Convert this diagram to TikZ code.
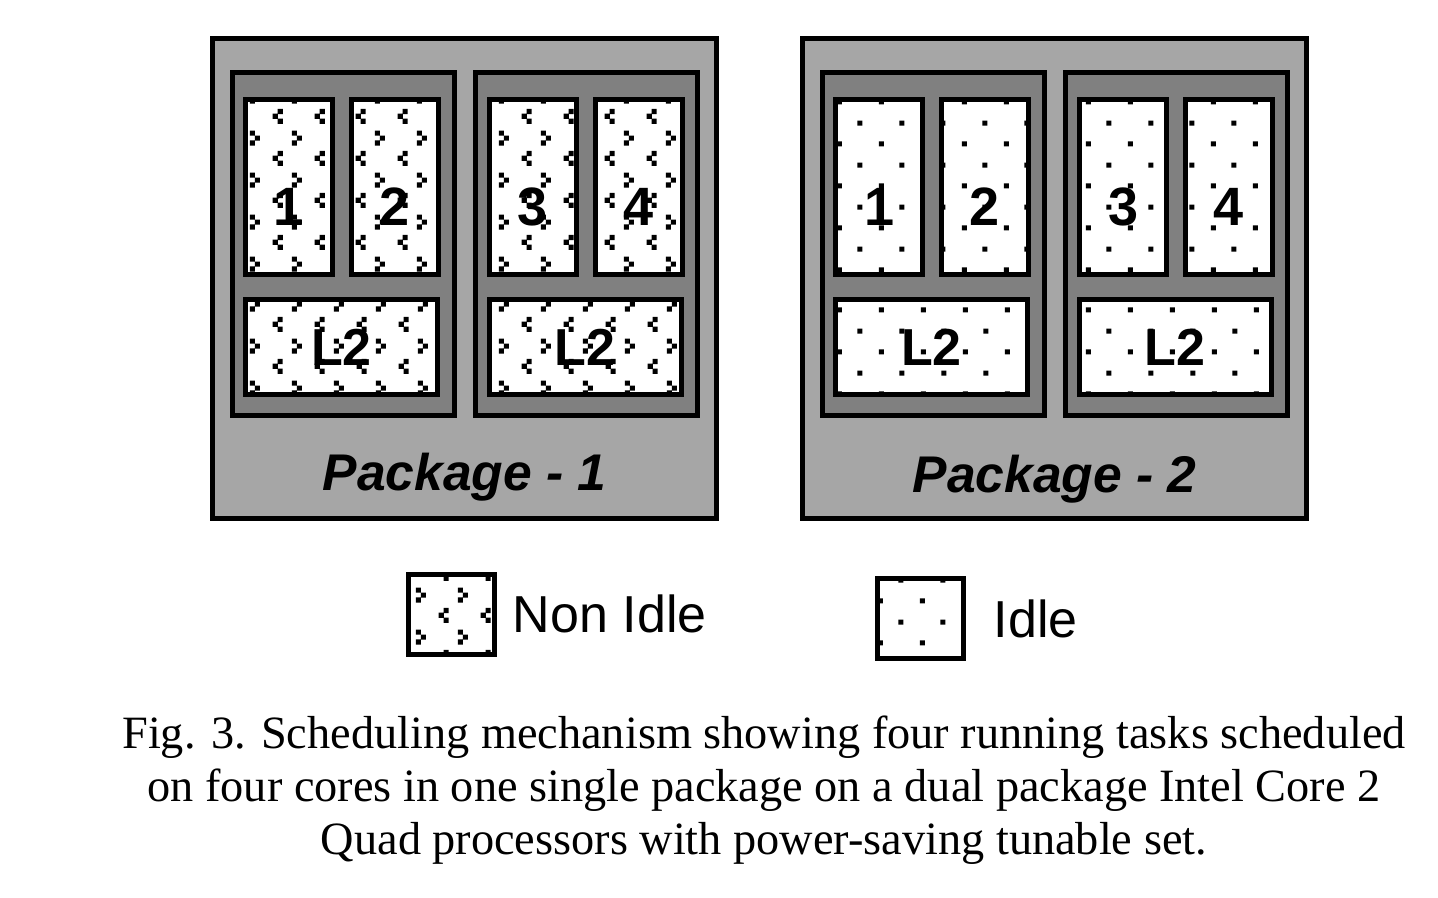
\documentclass[tikz,border=0pt]{standalone}
\usepackage{fontspec}
\setmainfont{Liberation Serif}
\setsansfont{Liberation Sans}
\usetikzlibrary{patterns,positioning}
\definecolor{pkggray}{RGB}{166,166,166}
\definecolor{diegray}{RGB}{128,128,128}
% chevron pattern for busy cores
\pgfdeclarepatternformonly{nonidle}{\pgfpointorigin}{\pgfpoint{20.75pt}{20.75pt}}{\pgfpoint{20.75pt}{20.75pt}}{%
  \pgfpathrectangle{\pgfpoint{0.4pt}{2.2pt}}{\pgfpoint{2.6pt}{2.6pt}}%
  \pgfpathrectangle{\pgfpoint{2.9pt}{4.7pt}}{\pgfpoint{2.6pt}{2.6pt}}%
  \pgfpathrectangle{\pgfpoint{0.4pt}{7.2pt}}{\pgfpoint{2.6pt}{2.6pt}}%
  \pgfpathrectangle{\pgfpoint{14.4pt}{13.2pt}}{\pgfpoint{2.6pt}{2.6pt}}%
  \pgfpathrectangle{\pgfpoint{11.9pt}{15.7pt}}{\pgfpoint{2.6pt}{2.6pt}}%
  \pgfpathrectangle{\pgfpoint{14.4pt}{18.1pt}}{\pgfpoint{2.6pt}{2.6pt}}%
  \pgfusepath{fill}}
% dot pattern for idle cores
\pgfdeclarepatternformonly{idle}{\pgfpointorigin}{\pgfpoint{20.75pt}{20.75pt}}{\pgfpoint{20.75pt}{20.75pt}}{%
  \pgfpathrectangle{\pgfpoint{13.8pt}{12.3pt}}{\pgfpoint{2.5pt}{2.5pt}}%
  \pgfpathrectangle{\pgfpoint{3.5pt}{1.8pt}}{\pgfpoint{2.5pt}{2.5pt}}%
  \pgfusepath{fill}}

\begin{document}
\begin{tikzpicture}[x=0.5pt,y=-0.5pt,node distance=52.75pt]
\tikzstyle {box}=[rectangle, draw=black, line width=2.5pt, inner sep=0pt]
\tikzstyle {pkg}=[box, fill=pkggray, minimum width=252pt, minimum height=240pt]
\tikzstyle {die}=[box, fill=diegray, minimum width=111pt, minimum height=171.5pt]
\tikzstyle {core}=[box, preaction={fill=white}, minimum width=43.5pt, minimum height=87.5pt, font=\sffamily\bfseries\fontsize{27}{27}\selectfont, text height=39pt, text depth=0pt]
\tikzstyle {cache}=[box, preaction={fill=white}, minimum width=96pt, minimum height=47.5pt, font=\sffamily\bfseries\fontsize{26}{26}\selectfont]
\tikzstyle {busy}=[pattern=nonidle]
\tikzstyle {free}=[pattern=idle]
\tikzstyle {pkgtxt}=[inner sep=0pt, font=\sffamily\bfseries\itshape\fontsize{25.8}{25.8}\selectfont]
\tikzstyle {legbox}=[box, preaction={fill=white}, minimum width=43pt, minimum height=40pt]
\tikzstyle {legtxt}=[inner sep=0pt, font=\sffamily\fontsize{26}{26}\selectfont]
\useasboundingbox (0,0) rectangle (1438,898);
% package 1: four running tasks
\node (p1) [pkg] at (464.75,278.75) {};
\node (d11) [die] at (343.5,244) {};
\node (d12) [die] at (586.5,244) {};
\node (c1) [core,busy] at (289,187) {1};
\node (c2) [core,busy,right of=c1] {2};
\node (c3) [core,busy] at (533,187) {3};
\node (c4) [core,busy,right of=c3] {4};
\node (l21) [cache,busy] at (341.5,347) {L2};
\node (l22) [cache,busy] at (585,347) {L2};
\node (n1) [pkgtxt,anchor=base] at ([yshift=15.5pt]p1.south) {Package - 1};
% package 2: all idle
\node (p2) [pkg] at (1054.75,278.75) {};
\node (d21) [die] at (933.5,244) {};
\node (d22) [die] at (1176.5,244) {};
\node (c5) [core,free] at (879,187) {1};
\node (c6) [core,free,right of=c5] {2};
\node (c7) [core,free] at (1123,187) {3};
\node (c8) [core,free,right of=c7] {4};
\node (l23) [cache,free] at (931.5,347) {L2};
\node (l24) [cache,free] at (1175,347) {L2};
\node (n2) [pkgtxt,anchor=base] at ([yshift=14.5pt]p2.south) {Package - 2};
% legend
\node (leg1) [legbox,busy] at (451,614) {};
\node (t1) [legtxt,right=8pt of leg1] {Non Idle};
\node (leg2) [legbox,free] at (920,618.5) {};
\node (t2) [legtxt,right=14pt of leg2] {Idle};
% caption
\node (cap) [align=center, inner sep=0pt, font=\fontsize{23.15}{26.5}\selectfont] at (764,790) {Fig. 3. Scheduling mechanism showing four running tasks scheduled\\on four cores in one single package on a dual package Intel Core 2\\Quad processors with power-saving tunable set.};
\end{tikzpicture}
\end{document}
